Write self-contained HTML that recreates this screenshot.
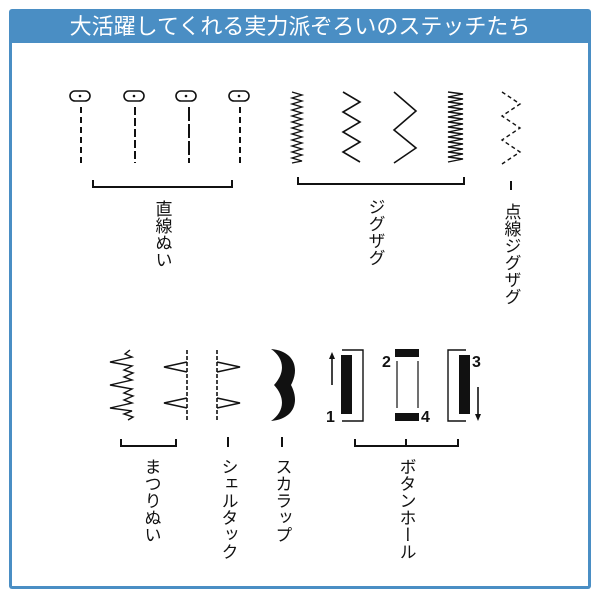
<!DOCTYPE html>
<html><head><meta charset="utf-8"><style>
html,body{margin:0;padding:0;background:#fff;}
</style></head><body>
<svg width="600" height="600" xmlns="http://www.w3.org/2000/svg" style="display:block">
<rect x="9" y="9" width="582" height="580" rx="3" fill="#4a8ec4"/>
<rect x="12" y="43" width="576" height="543" fill="#fff"/>
<text x="300" y="34" text-anchor="middle" font-family="'Liberation Sans','Noto Sans CJK JP',sans-serif" font-size="22" fill="#fff">大活躍してくれる実力派ぞろいのステッチたち</text>
<g stroke="#111" fill="none" stroke-width="2">
<g stroke-width="1.6">
<rect x="70" y="91" width="20" height="10" rx="5"/><rect x="124" y="91" width="20" height="10" rx="5"/><rect x="176" y="91" width="20" height="10" rx="5"/><rect x="229" y="91" width="20" height="10" rx="5"/>
</g>
<g fill="#111" stroke="none"><circle cx="80" cy="96" r="1.3"/><circle cx="134" cy="96" r="1.3"/><circle cx="186" cy="96" r="1.3"/><circle cx="239" cy="96" r="1.3"/></g>
<line x1="81" y1="107" x2="81" y2="163" stroke-dasharray="6,4"/>
<line x1="135" y1="107" x2="135" y2="163" stroke-dasharray="8,3"/>
<line x1="189" y1="107" x2="189" y2="163" stroke-dasharray="14,3"/>
<line x1="240" y1="107" x2="240" y2="163" stroke-dasharray="6,4"/>
<path d="M93 180V187H232V180"/>
<path stroke-width="1.3" d="M292 92 L302 95 L292 98 L302 101 L292 104 L302 107 L292 110 L302 113 L292 116 L302 119 L292 122 L302 125 L292 128 L302 131 L292 134 L302 137 L292 140 L302 143 L292 146 L302 149 L292 152 L302 155 L292 158 L302 161 L292 163"/>
<path stroke-width="1.6" d="M343 92 L360 102 L343 112 L360 122 L343 132 L360 142 L343 152 L360 162"/>
<path stroke-width="1.6" d="M394 92 L416 111 L394 130 L416 148 L394 163"/>
<path stroke-width="1.4" d="M448 92 L463 94 L448 97 L463 99 L448 102 L463 104 L448 107 L463 109 L448 112 L463 114 L448 117 L463 119 L448 122 L463 124 L448 127 L463 129 L448 132 L463 134 L448 137 L463 139 L448 142 L463 144 L448 147 L463 149 L448 152 L463 154 L448 157 L463 159 L448 162"/>
<path d="M298 177V184H464V177"/>
<path stroke-width="1.4" stroke-dasharray="4,3" d="M502 92 L520 104 L502 116 L520 128 L502 140 L520 152 L502 164"/>
<line x1="511" y1="181" x2="511" y2="190"/>
<path stroke-width="1.4" d="M130 350 L125 354 L132 357 L110 362 L132 366 L124 370 L133 373 L124 377 L132 380 L110 385 L132 389 L124 393 L133 396 L124 400 L132 403 L110 408 L132 411 L124 414 L133 417 L128 420"/>
<path stroke-width="1.6" d="M187 350 V420" stroke-dasharray="4,2"/>
<path stroke-width="1.6" d="M187 362 L164 367 L187 372 M187 398 L164 403 L187 408"/>
<path stroke-width="1.6" d="M217 350 V420" stroke-dasharray="4,2"/>
<path stroke-width="1.6" d="M217 362 L240 367 L217 372 M217 398 L240 403 L217 408"/>
<path d="M121 439V446H176V439"/>
<line x1="228" y1="437" x2="228" y2="447"/>
<line x1="282" y1="437" x2="282" y2="447"/>
<path stroke-width="1.4" d="M342 350H363V421H342"/>
<path stroke-width="1.4" d="M466 350H448V421H466"/>
<line x1="332" y1="385" x2="332" y2="356" stroke-width="1.6"/>
<line x1="478" y1="387" x2="478" y2="418" stroke-width="1.6"/>
<line x1="397" y1="361" x2="397" y2="408" stroke-width="1.2"/>
<line x1="418" y1="361" x2="418" y2="408" stroke-width="1.2"/>
<path d="M355 439V446H458V439M406 439V446"/>
</g>
<g fill="#111">
<path d="M271 349 C294 351 300 368 291 385 C300 402 294 419 271 421 C284 412 286 398 274 385 C286 372 284 358 271 349Z"/>
<path d="M332 352 L329 359 L335 359Z"/>
<path d="M478 421 L475 414 L481 414Z"/>
<rect x="341" y="355" width="11" height="59"/>
<rect x="459" y="355" width="11" height="59"/>
<rect x="395" y="349" width="24" height="8"/>
<rect x="395" y="413" width="24" height="8"/>
</g>
<g font-family="'Liberation Sans',sans-serif" font-weight="bold" font-size="16" fill="#111">
<text x="326" y="422">1</text><text x="382" y="367">2</text><text x="472" y="367">3</text><text x="421" y="422">4</text>
</g>
<g font-family="'Liberation Sans','Noto Sans CJK JP',sans-serif" font-size="17" fill="#111">
<text x="162" y="200" style="writing-mode:vertical-rl">直線ぬい</text>
<text x="375" y="198" style="writing-mode:vertical-rl">ジグザグ</text>
<text x="511" y="203" style="writing-mode:vertical-rl">点線ジグザグ</text>
<text x="151" y="458" style="writing-mode:vertical-rl">まつりぬい</text>
<text x="228" y="458" style="writing-mode:vertical-rl">シェルタック</text>
<text x="282" y="458" style="writing-mode:vertical-rl">スカラップ</text>
<text x="406" y="458" style="writing-mode:vertical-rl">ボタンホール</text>
</g>
</svg>
</body></html>
